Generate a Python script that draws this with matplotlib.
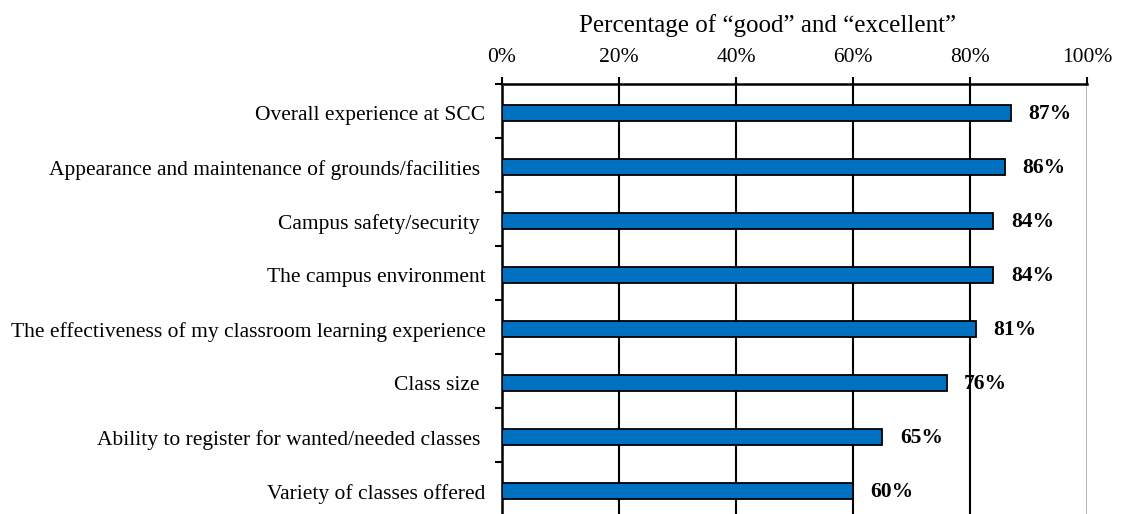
import matplotlib.pyplot as plt
from matplotlib.ticker import FuncFormatter

plt.rcParams['font.family'] = ['Liberation Serif', 'DejaVu Serif']

categories = [
    "Overall experience at SCC",
    "Appearance and maintenance of grounds/facilities ",
    "Campus safety/security ",
    "The campus environment",
    "The effectiveness of my classroom learning experience",
    "Class size ",
    "Ability to register for wanted/needed classes ",
    "Variety of classes offered",
]
values = [87, 86, 84, 84, 81, 76, 65, 60]
xticks = [0, 20, 40, 60, 80, 100]
title = "Percentage of \u201cgood\u201d and \u201cexcellent\u201d"

fig = plt.figure(figsize=(11.25, 5.14), dpi=100)
ax = fig.add_axes([0.4462, -0.0039, 0.52, 0.8405])

n = len(categories)
ypos = [i + 0.04 for i in range(n)]  # bars sit a touch below row centre
ax.barh(ypos, values, height=0.3, color='#0070C0', edgecolor='black',
        linewidth=1.3, zorder=3)
for y, v in zip(ypos, values):
    ax.text(v + 3.0, y + 0.02, f"{v}%", va='center', ha='left',
            fontsize=15.5, fontweight='bold', zorder=4)

ax.set_xlim(0, 100)
ax.set_ylim(n - 0.5, -0.5)
ax.xaxis.tick_top()
ax.set_xticks(xticks)
ax.xaxis.set_major_formatter(FuncFormatter(lambda x, _: f"{x:.0f}%"))
ax.tick_params(axis='x', direction='out', length=5, width=1.5,
               labelsize=15.5, pad=7)
fig.text(0.682, 0.9377, title, ha='center', va='baseline', fontsize=18)

ax.set_yticks([i - 0.5 for i in range(n)])
ax.set_yticklabels([])
ax.set_yticks(ypos, minor=True)
ax.set_yticklabels(categories, minor=True, fontsize=15.5)
ax.tick_params(axis='y', which='major', length=5, width=1.5, direction='out')
ax.tick_params(axis='y', which='minor', length=0, pad=12)

for x in xticks[1:-1]:
    ax.axvline(x, color='black', lw=1.5, zorder=1)
ax.axvline(100, color='#a0a0a0', lw=1.8, zorder=1)

for side in ['right', 'bottom']:
    ax.spines[side].set_visible(False)
ax.spines['top'].set_linewidth(1.8)
ax.spines['left'].set_linewidth(1.8)

plt.savefig('out.png', dpi=100)
